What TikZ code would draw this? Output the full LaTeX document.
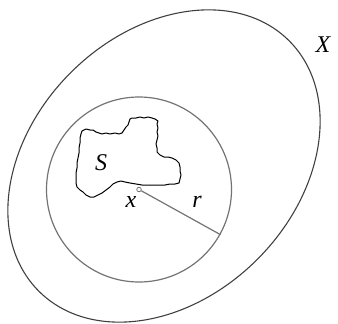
\documentclass[tikz,border=0pt]{standalone}
\usepackage{fontspec}
\setmainfont{Liberation Serif}
\usetikzlibrary{calc}

\begin{document}
\begin{tikzpicture}[x=1pt, y=-1pt,
    lbl/.style={font=\fontsize{24}{28}\selectfont\itshape, inner sep=0pt},
    rim/.style={draw=black!75, line width=1.1pt},
    ring/.style={draw=black!55, line width=1.2pt},
    blob/.style={draw=black, line width=1pt, line join=round}
  ]
  \useasboundingbox (0,0) rectangle (338,324);

  % the space X
  \draw[rim, rotate around={45:(164,166)}] (164,166) ellipse [x radius=177pt, y radius=132pt];

  % the ball of radius r around x
  \node[circle, ring, minimum size=185pt, inner sep=0pt] (ball) at (139,189.5) {};
  \node[circle, draw=black!55, line width=0.8pt, minimum size=4.5pt, inner sep=0pt] (xpt) at (ball.center) {};
  \draw[ring] (xpt) -- (ball.-29);

  % the set S
  \draw[blob] plot coordinates {
    (82,131) (86,129) (90,130) (93,130) (96,132) (99,133) (102,134) (106,133)
    (110,134) (115,133) (119,134) (122,133) (124,130) (126,127) (128,125)
    (129,122) (130,119) (132,118) (136,118) (140,117) (144,118) (148,117)
    (152,118) (155,119) (158,121) (157,124) (158,128) (157,132) (158,136)
    (157,140) (156,144) (157,148) (157,152) (160,155) (164,157) (168,157)
    (172,158) (176,160) (179,163) (180,167) (180,171) (181,175) (180,179)
    (179,183) (175,184) (170,184) (165,185) (160,185) (154,185) (148,185)
    (142,185) (136,184) (130,183) (125,182) (121,181) (117,182) (113,184)
    (110,187) (106,190) (102,193) (98,195) (94,197) (90,197) (86,195)
    (83,192) (80,190) (77,187) (76,183) (76,178) (76,173) (77,168) (77,163)
    (78,158) (79,153) (79,148) (80,143) (80,138) (81,134)} -- cycle;

  % labels
  \node[lbl] (lX) at (323,45) {X};
  \node[lbl] (lS) at (101,163) {S};
  \node[lbl] (lx) at (131,202) {x};
  \node[lbl] (lr) at (197,202) {r};
\end{tikzpicture}
\end{document}
